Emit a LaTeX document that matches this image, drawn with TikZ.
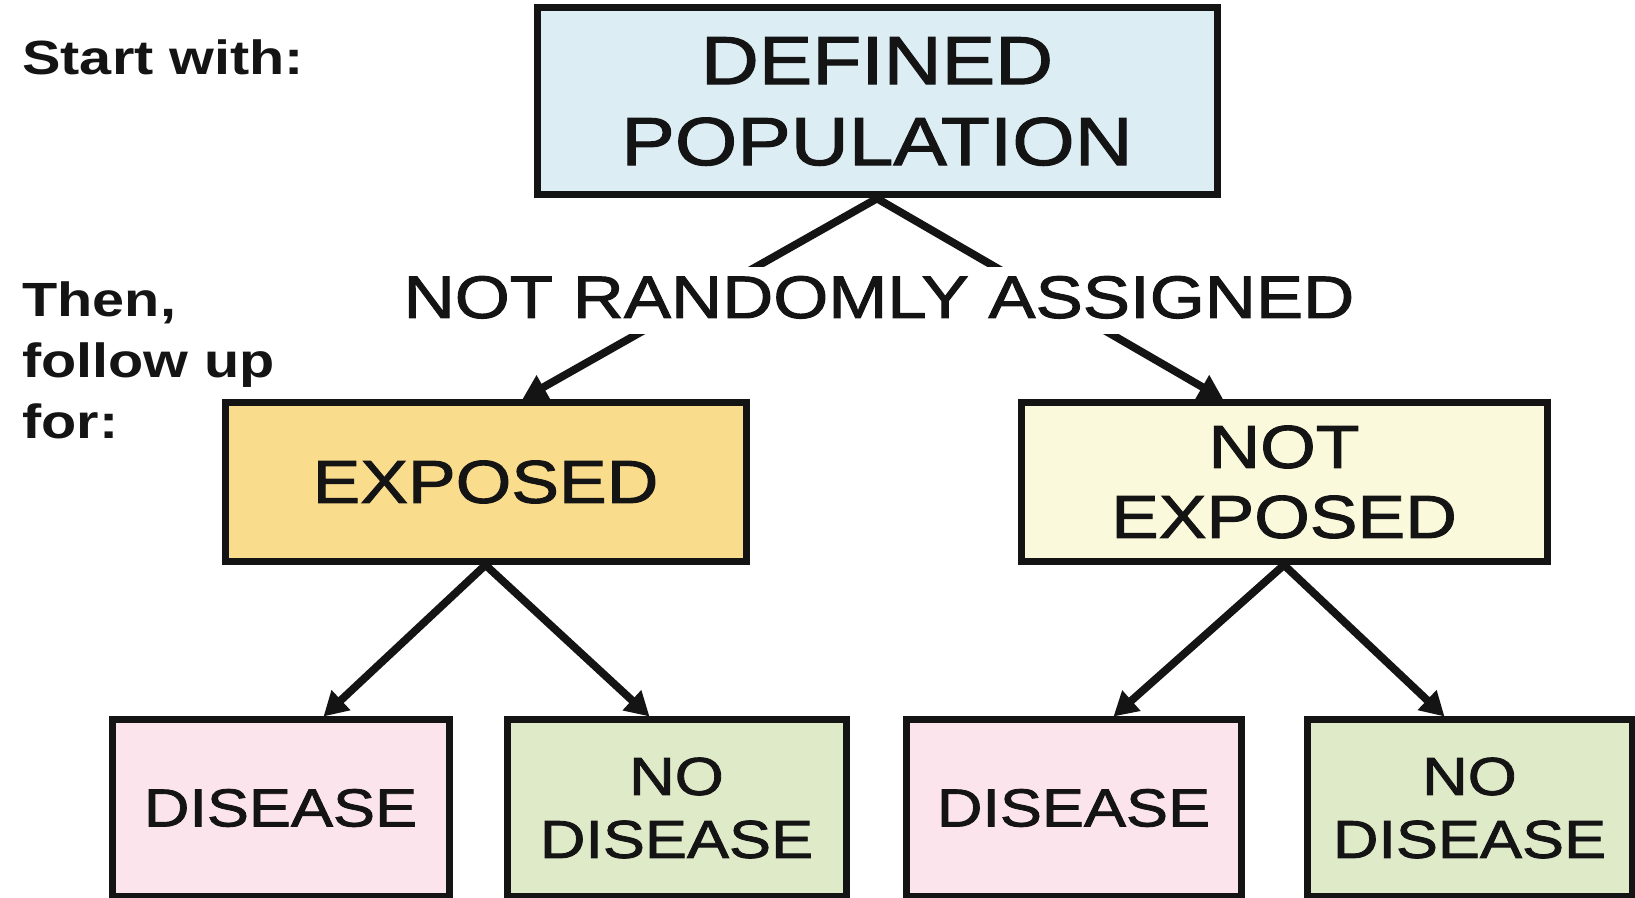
\documentclass[tikz,border=0pt]{standalone}
\usepackage{fontspec}
\setmainfont[FakeStretch=1.2]{Liberation Sans}
\newfontfamily\boxfont[FakeStretch=1.18, FakeBold=1.6]{Liberation Sans}
\usetikzlibrary{arrows.meta}
\definecolor{cblue}{HTML}{DCEEF4}
\definecolor{corange}{HTML}{F9DC8C}
\definecolor{ccream}{HTML}{FAF9DC}
\definecolor{cpink}{HTML}{FCE4EC}
\definecolor{cgreen}{HTML}{DFEAC9}
\definecolor{ink}{HTML}{141414}
\begin{document}
\begin{tikzpicture}[x=0.5pt,y=-0.5pt,
  box/.style={draw=ink, line width=3.5pt, inner sep=0pt, align=center, text=ink},
  toptext/.style={font=\boxfont\fontsize{34}{40.5}\selectfont},
  midtext/.style={font=\boxfont\fontsize{30.3}{35}\selectfont},
  lowtext/.style={font=\boxfont\fontsize{26.7}{31.5}\selectfont},
  side/.style={inner sep=0pt, text=ink, font=\bfseries\fontsize{24}{30.5}\selectfont},
  arr/.style={draw=ink, line width=3.9pt, -{Triangle[length=12pt,width=13pt]}},
]
\useasboundingbox (0,0) rectangle (1635,898);
\fill[white] (0,0) rectangle (1635,898);

% side labels
\node[side, anchor=base west] (start) at (22,75) {Start with:};
\node[side, anchor=north west, align=left] (then) at (22,281) {Then,\\follow up\\for:};

% boxes
\node[box, toptext, fill=cblue, minimum width=340pt, minimum height=93.5pt] (top) at (877,101.5) {DEFINED\\POPULATION};
\node[box, midtext, fill=corange, minimum width=260.5pt, minimum height=79.5pt] (exp) at (485.5,482) {EXPOSED};
\node[box, midtext, fill=ccream, minimum width=263pt, minimum height=79.5pt] (nexp) at (1284,482) {NOT\\EXPOSED};
\node[box, lowtext, fill=cpink, minimum width=168.5pt, minimum height=88pt] (d1) at (280.5,808) {DISEASE};
\node[box, lowtext, fill=cgreen, minimum width=169.5pt, minimum height=88pt] (nd1) at (676.5,808) {NO\\DISEASE};
\node[box, lowtext, fill=cpink, minimum width=167.5pt, minimum height=88pt] (d2) at (1073.5,808) {DISEASE};
\node[box, lowtext, fill=cgreen, minimum width=162.5pt, minimum height=88pt] (nd2) at (1469.5,808) {NO\\DISEASE};

% connectors
\draw[arr] (top.south) -- ([xshift=18.5pt]exp.north);
\draw[arr] (top.south) -- ([xshift=-30.5pt]nexp.north);
\draw[arr] (exp.south) -- ([xshift=21.5pt]d1.north);
\draw[arr] (exp.south) -- ([xshift=-13.5pt]nd1.north);
\draw[arr] (nexp.south) -- ([xshift=20pt]d2.north);
\draw[arr] (nexp.south) -- ([xshift=-12.5pt]nd2.north);

% label over the top connectors
\node[fill=white, text=ink, inner xsep=1pt, inner ysep=4pt, text height=21.5pt, text depth=4pt,
      font=\boxfont\fontsize{30}{35}\selectfont, anchor=base] (nra) at (879,318) {NOT RANDOMLY ASSIGNED};
\end{tikzpicture}
\end{document}
